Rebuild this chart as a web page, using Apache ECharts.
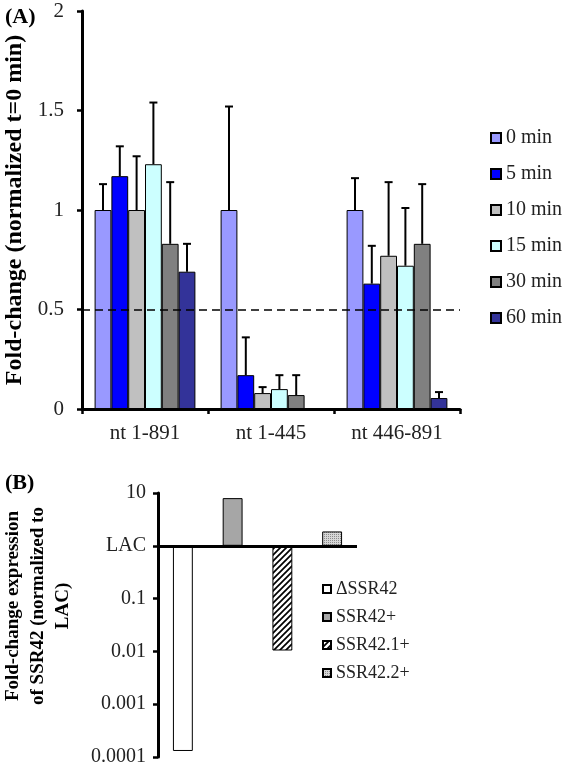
<!DOCTYPE html>
<html><head><meta charset="utf-8">
<script src="https://cdn.jsdelivr.net/npm/echarts@6/dist/echarts.min.js"></script>
<style>html,body{margin:0;padding:0;background:#fff}#c{width:566px;height:765px}</style>
</head><body><div id="c"></div>
<script>
// ---- Panel A data ----
const categoriesA = ['nt 1-891', 'nt 1-445', 'nt 446-891'];
const timeNames = ['0 min', '5 min', '10 min', '15 min', '30 min', '60 min'];
const v0  = [1.00, 1.00, 1.00];
const v5  = [1.17, 0.17, 0.63];
const v10 = [1.00, 0.08, 0.77];
const v15 = [1.23, 0.10, 0.72];
const v30 = [0.83, 0.07, 0.83];
const v60 = [0.69, null, 0.055];
const e0  = [0.13, 0.52, 0.16];
const e5  = [0.15, 0.19, 0.19];
const e10 = [0.27, 0.03, 0.37];
const e15 = [0.31, 0.07, 0.29];
const e30 = [0.31, 0.10, 0.30];
const e60 = [0.14, null, 0.03];
const yTicksA = [0, 0.5, 1, 1.5, 2];
const thresholdA = 0.5;

// ---- Panel B data ----
const categoriesB = ['ΔSSR42', 'SSR42+', 'SSR42.1+', 'SSR42.2+'];
const valuesB = [0.00013, 8.0, 0.0104, 1.87];
const yTicksB = ['0.0001', '0.001', '0.01', '0.1', 'LAC', '10'];
const titleB = 'Fold-change expression\nof SSR42 (normalized to\nLAC)';

const SERIF = "'Liberation Serif','Times New Roman',serif";
const colorsA = ['#9999FF', '#0000FF', '#C0C0C0', '#CCFFFF', '#808080', '#333399'];
const valsA = [v0, v5, v10, v15, v30, v60];
const errsA = [e0, e5, e10, e15, e30, e60];

function stripePattern() {
  const c = document.createElement('canvas'); c.width = 6; c.height = 6;
  const g = c.getContext('2d');
  g.fillStyle = '#fff'; g.fillRect(0, 0, 6, 6);
  g.strokeStyle = '#000'; g.lineWidth = 1.7; g.beginPath();
  g.moveTo(-1, 7); g.lineTo(7, -1);
  g.moveTo(-4, 4); g.lineTo(4, -4);
  g.moveTo(2, 10); g.lineTo(10, 2);
  g.stroke();
  return c;
}
function dotPattern() {
  const c = document.createElement('canvas'); c.width = 2; c.height = 2;
  const g = c.getContext('2d');
  g.fillStyle = '#d6d6d6'; g.fillRect(0, 0, 2, 2);
  g.fillStyle = '#8a8a8a'; g.fillRect(0, 0, 1, 1);
  return c;
}
const fillsB = ['#ffffff', '#A6A6A6', {image: stripePattern(), repeat: 'repeat'}, {image: dotPattern(), repeat: 'repeat'}];

const seriesList = [];
timeNames.forEach((name, si) => {
  const s = {
    name: name, type: 'bar', xAxisIndex: 0, yAxisIndex: 0,
    data: valsA[si],
    barGap: 0, barCategoryGap: '20%',
    itemStyle: {color: colorsA[si], borderColor: '#000', borderWidth: 1},
    emphasis: {disabled: true}
  };
  if (si === 0) {
    s.markLine = {
      silent: true, symbol: ['none', 'none'], label: {show: false},
      lineStyle: {color: '#000', width: 1.5, type: [8, 5]},
      data: [{yAxis: thresholdA}]
    };
  }
  seriesList.push(s);
});
const errData = [];
valsA.forEach((vals, si) => {
  vals.forEach((v, ci) => {
    const e = errsA[si][ci];
    if (v != null && e != null) errData.push([ci, v, e, si]);
  });
});
seriesList.push({
  type: 'custom', xAxisIndex: 0, yAxisIndex: 0, z: 10, silent: true,
  data: errData,
  encode: {x: 0, y: 1},
  renderItem: function (params, api) {
    const ci = api.value(0), v = api.value(1), e = api.value(2), si = api.value(3);
    const catW = api.size([1, 0])[0];
    const barW = catW * 0.8 / timeNames.length;
    const base = api.coord([ci, v]);
    const top = api.coord([ci, v + e]);
    const x = base[0] - catW * 0.4 + barW * (si + 0.5);
    const cap = 4;
    return {type: 'group', children: [
      {type: 'line', shape: {x1: x, y1: base[1], x2: x, y2: top[1]}, style: {stroke: '#000', lineWidth: 2}},
      {type: 'line', shape: {x1: x - cap, y1: top[1], x2: x + cap, y2: top[1]}, style: {stroke: '#000', lineWidth: 2}}
    ]};
  }
});
categoriesB.forEach((name, i) => {
  const data = categoriesB.map((c, j) => (j === i ? valuesB[i] : null));
  const s = {
    name: name, type: 'bar', xAxisIndex: 1, yAxisIndex: 1,
    data: data, barWidth: '40%', barGap: '-100%',
    itemStyle: {color: fillsB[i], borderColor: '#000', borderWidth: 1},
    emphasis: {disabled: true}
  };
  if (i === 0) {
    s.markLine = {
      silent: true, symbol: ['none', 'none'], label: {show: false},
      lineStyle: {color: '#000', width: 3, type: 'solid'},
      data: [{yAxis: 1}]
    };
  }
  seriesList.push(s);
});

const chart = echarts.init(document.getElementById('c'), null, {renderer: 'canvas'});
chart.setOption({
  backgroundColor: '#fff',
  animation: false,
  title: [
    {text: '(A)', left: 0, top: 1, textStyle: {fontFamily: SERIF, fontSize: 22, fontWeight: 'bold', color: '#000'}},
    {text: '(B)', left: 0, top: 467, textStyle: {fontFamily: SERIF, fontSize: 22, fontWeight: 'bold', color: '#000'}}
  ],
  graphic: [
    {
      type: 'text', x: 38, y: 606, rotation: Math.PI / 2, silent: true,
      style: {
        text: titleB, align: 'center', verticalAlign: 'middle',
        font: "bold 19px 'Liberation Serif','Times New Roman',serif", lineHeight: 25, fill: '#000'
      }
    }
  ],
  legend: [
    {
      data: timeNames, orient: 'vertical', left: 485, top: 123,
      itemWidth: 10, itemHeight: 10, itemGap: 16, icon: 'rect',
      selectedMode: false,
      textStyle: {fontFamily: SERIF, fontSize: 20, lineHeight: 20, color: '#222'}
    },
    {
      data: categoriesB, orient: 'vertical', left: 317, top: 575,
      itemWidth: 8, itemHeight: 8, itemGap: 10, icon: 'rect',
      selectedMode: false,
      textStyle: {fontFamily: SERIF, fontSize: 18, lineHeight: 18, color: '#222'}
    }
  ],
  grid: [
    {left: 82, top: 11, width: 378, height: 398, containLabel: false, outerBoundsMode: 'none'},
    {left: 158, top: 493, width: 199, height: 264, containLabel: false, outerBoundsMode: 'none'}
  ],
  xAxis: [
    {
      type: 'category', gridIndex: 0, data: categoriesA,
      axisLine: {lineStyle: {color: '#000', width: 3}},
      axisTick: {show: true, length: 5, lineStyle: {color: '#000', width: 2.5}},
      axisLabel: {interval: 0, margin: 14, fontFamily: SERIF, fontSize: 21, color: '#222'},
      splitLine: {show: false}
    },
    {
      type: 'category', gridIndex: 1, data: categoriesB,
      axisLine: {show: false}, axisTick: {show: false}, axisLabel: {show: false},
      splitLine: {show: false}
    }
  ],
  yAxis: [
    {
      type: 'value', gridIndex: 0, min: yTicksA[0], max: yTicksA[yTicksA.length - 1], interval: 0.5,
      name: 'Fold-change (normalized t=0 min)', nameLocation: 'middle', nameRotate: 90, nameGap: 51,
      nameTextStyle: {fontFamily: SERIF, fontSize: 24, fontWeight: 'bold', color: '#000'},
      axisLine: {show: true, lineStyle: {color: '#000', width: 3}},
      axisTick: {show: true, length: 5, lineStyle: {color: '#000', width: 2.5}},
      axisLabel: {margin: 18, fontFamily: SERIF, fontSize: 21, color: '#222'},
      splitLine: {show: false}
    },
    {
      type: 'log', logBase: 10, gridIndex: 1, min: 0.0001, max: 10,
      axisLine: {show: true, onZero: false, lineStyle: {color: '#000', width: 3}},
      axisTick: {show: true, length: 5, lineStyle: {color: '#000', width: 2.5}},
      axisLabel: {
        margin: 12, fontFamily: SERIF, fontSize: 20, color: '#222',
        formatter: function (v) { const k = Math.round(Math.log10(v)) + 4; return yTicksB[k] != null ? yTicksB[k] : ''; }
      },
      minorTick: {show: false},
      splitLine: {show: false}
    }
  ],
  series: seriesList
});
</script></body></html>
